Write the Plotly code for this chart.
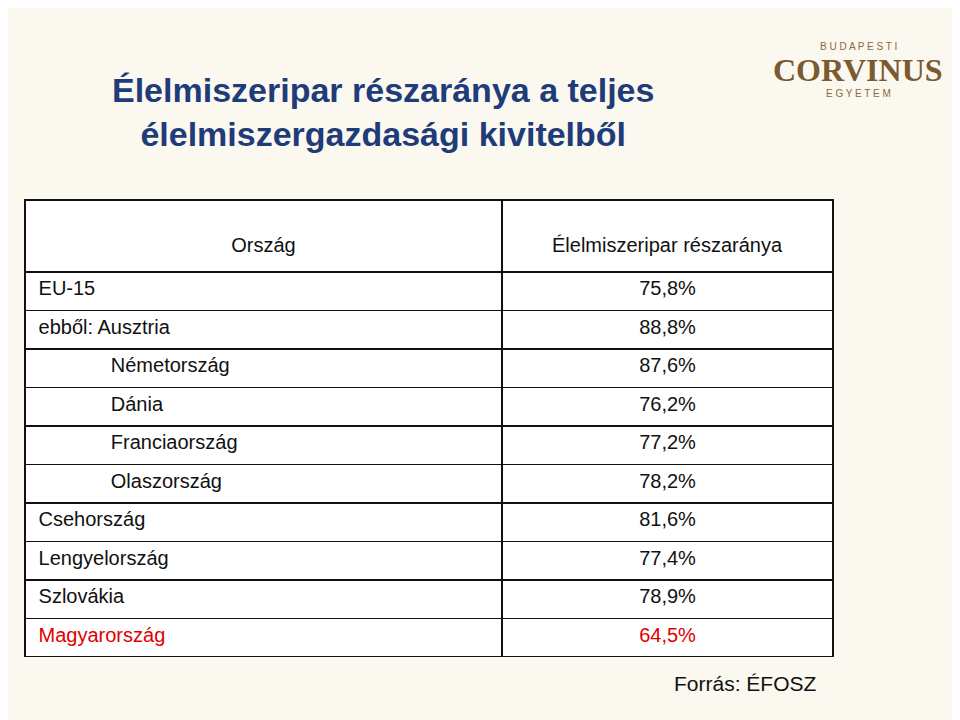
import plotly.graph_objects as go

orszagok = ["EU-15", "ebből: Ausztria", "Németország", "Dánia", "Franciaország",
            "Olaszország", "Csehország", "Lengyelország", "Szlovákia", "Magyarország"]
indent = [0, 0, 1, 1, 1, 1, 0, 0, 0, 0]
reszarany = ["75,8%", "88,8%", "87,6%", "76,2%", "77,2%", "78,2%", "81,6%", "77,4%", "78,9%", "64,5%"]

pad = "\u00a0" * 13
names = ["\u00a0" + (pad if i else "") + n for n, i in zip(orszagok, indent)]
colors = ["#111111"] * 9 + ["#e00000"]

W, H = 960, 720
OFF = 8  # page offset of the plot in the browser


def px(x):
    return (x - OFF) / W


def py(y):
    return 1 - (y - OFF) / H


fig = go.Figure(go.Table(
    domain=dict(x=[px(25), px(833)], y=[py(657), py(200)]),
    columnwidth=[477, 331],
    header=dict(values=["\u00a0<br>Ország", "\u00a0<br>Élelmiszeripar részaránya"],
                align="center", height=72,
                font=dict(family="Arial", size=20, color="#111111"),
                fill_color="white", line=dict(color="#111111", width=1.5)),
    cells=dict(values=[names, reszarany], align=["left", "center"], height=38.5,
               font=dict(family="Arial", size=20, color=[colors, colors]),
               fill_color="white", line=dict(color="#111111", width=1.5)),
))

ann = dict(xref="paper", yref="paper", showarrow=False, xanchor="center", yanchor="middle")
fig.update_layout(
    width=W, height=H, margin=dict(l=0, r=0, t=0, b=0),
    paper_bgcolor="#fbf8ef",
    annotations=[
        dict(ann, text="<b>Élelmiszeripar részaránya a teljes<br>élelmiszergazdasági kivitelből</b>",
             x=px(383), y=py(112),
             font=dict(family="Arial", size=34, color="#1f3c7a")),
        dict(ann, text="B U D A P E S T I", x=px(858), y=py(46),
             font=dict(family="Arial", size=10, color="#8a6a3a")),
        dict(ann, text="<b>CORVINUS</b>", x=px(858), y=py(70),
             font=dict(family="Liberation Serif", size=32, color="#7a5a30")),
        dict(ann, text="E G Y E T E M", x=px(858), y=py(93),
             font=dict(family="Arial", size=10, color="#8a6a3a")),
        dict(ann, text="Forrás: ÉFOSZ", x=px(745), y=py(683),
             font=dict(family="Arial", size=21, color="#111111")),
    ],
)

fig.write_html("out.html")
